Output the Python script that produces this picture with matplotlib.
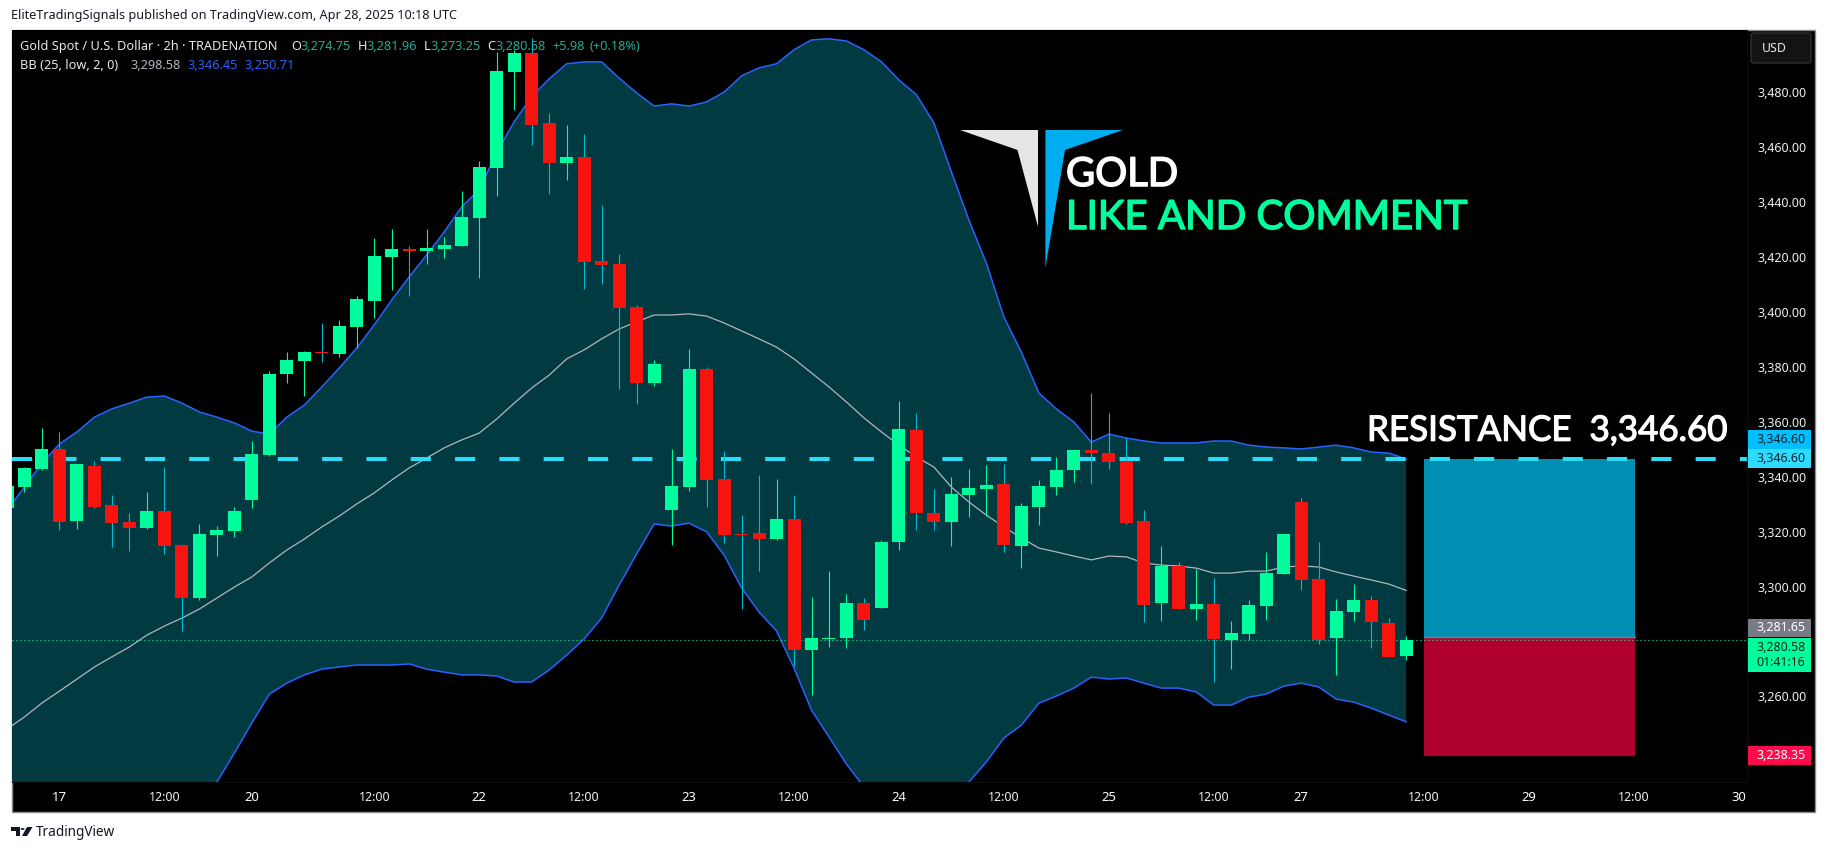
import numpy as np
import matplotlib
matplotlib.use("Agg")
import matplotlib.pyplot as plt
import matplotlib.patheffects as pe
from matplotlib.patches import Rectangle, Polygon, Circle, FancyBboxPatch
from matplotlib.transforms import blended_transform_factory

W, H = 1826, 852

opens = [3328.5,3336.2,3342.8,3350.1,3323.9,3343.9,3329.7,3323.5,3321.3,3327.5,
         3315.1,3295.8,3318.8,3320.2,3331.5,3347.9,3377.4,3382.2,3385.4,3384.7,
         3394.5,3404.0,3420.0,3422.9,3422.2,3422.9,3424.0,3434.3,3452.5,3487.4,
         3494.4,3468.9,3454.3,3456.5,3418.5,3417.5,3401.8,3374.1,3327.9,3336.3,
         3379.2,3339.2,3319.1,3319.5,3317.3,3324.6,3276.9,3280.9,3281.2,3294.0,
         3292.2,3316.2,3357.0,3326.8,3323.5,3333.3,3335.5,3337.3,3314.8,3329.0,
         3336.3,3342.4,3349.7,3348.6,3345.7,3323.9,3294.0,3307.6,3291.8,3293.6,
         3280.5,3282.7,3292.9,3304.6,3330.8,3302.7,3281.2,3290.7,3295.1,3286.7,
         3274.75]
highs = [3336.6,3343.7,3357.7,3356.3,3344.6,3345.7,3333.3,3326.8,3334.4,3343.5,
         3315.1,3322.8,3322.0,3329.0,3353.0,3378.5,3385.4,3385.8,3396.0,3397.1,
         3405.8,3426.9,3430.2,3424.0,3430.2,3427.3,3444.1,3455.0,3494.7,3495.5,
         3499.8,3472.5,3468.1,3464.8,3438.9,3421.1,3402.5,3382.5,3350.1,3386.5,
         3380.0,3349.4,3326.1,3340.7,3339.2,3333.3,3296.2,3305.7,3297.3,3295.8,
         3317.0,3367.6,3363.2,3335.5,3339.9,3342.8,3344.3,3344.6,3330.4,3338.8,
         3347.2,3350.1,3370.5,3363.2,3354.1,3327.9,3314.8,3308.9,3306.4,3303.1,
         3287.4,3295.1,3312.6,3319.1,3332.2,3316.2,3295.4,3300.9,3296.5,3288.5,
         3281.96]
lows = [3328.5,3334.4,3342.4,3320.6,3320.9,3328.6,3314.4,3312.9,3320.9,3311.8,
        3283.9,3295.1,3311.1,3318.0,3328.6,3347.5,3374.1,3369.4,3381.8,3383.6,
        3386.8,3397.8,3408.0,3405.8,3417.5,3419.7,3424.0,3412.4,3442.3,3473.6,
        3460.8,3443.0,3448.1,3408.4,3410.2,3371.9,3366.4,3373.0,3315.1,3334.8,
        3329.0,3315.9,3291.8,3305.7,3317.0,3271.0,3260.5,3277.9,3277.6,3284.2,
        3292.2,3313.3,3320.6,3320.6,3314.8,3325.3,3325.7,3312.6,3306.8,3322.4,
        3333.3,3338.1,3337.3,3342.8,3322.8,3287.1,3287.4,3291.8,3287.8,3265.2,
        3269.9,3280.5,3287.8,3304.6,3298.7,3279.0,3267.8,3287.4,3277.6,3274.3,
        3273.25]
closes = [3336.6,3343.2,3350.1,3323.6,3344.6,3329.0,3323.1,3321.3,3327.5,3314.8,
          3295.8,3319.1,3320.6,3327.5,3348.3,3377.4,3382.5,3385.4,3385.1,3394.9,
          3404.6,3420.4,3422.9,3422.2,3423.3,3424.4,3434.6,3452.8,3487.8,3494.4,
          3468.1,3454.3,3456.5,3418.2,3417.1,3401.4,3374.1,3381.0,3336.6,3379.2,
          3338.8,3318.8,3318.8,3317.3,3324.6,3276.9,3281.2,3281.2,3294.0,3287.8,
          3316.2,3357.4,3326.8,3323.5,3333.7,3335.9,3337.0,3315.1,3329.3,3336.6,
          3342.4,3349.7,3348.6,3345.4,3323.1,3293.3,3307.6,3291.8,3293.6,3280.9,
          3283.1,3293.3,3304.9,3319.1,3302.4,3280.5,3291.1,3295.1,3287.1,3274.3,
          3280.58]

bb_upper = [3327.9,3336.2,3345.0,3351.9,3356.3,3361.7,3364.7,3366.8,3369.0,3369.4,
            3366.8,3363.6,3361.7,3359.6,3356.6,3355.5,3361.7,3366.1,3372.7,3379.6,
            3386.9,3395.3,3404.4,3412.8,3420.8,3429.2,3438.3,3444.5,3458.0,3469.3,
            3478.4,3484.9,3490.4,3491.1,3491.1,3485.2,3479.8,3475.0,3475.8,3475.0,
            3476.5,3480.1,3486.0,3488.9,3490.4,3495.5,3499.1,3499.5,3498.7,3495.5,
            3491.1,3484.5,3479.1,3468.9,3451.0,3433.5,3417.8,3398.2,3385.4,3370.5,
            3364.7,3359.9,3352.6,3355.5,3354.1,3353.0,3352.3,3352.3,3352.3,3353.0,
            3353.0,3351.5,3350.8,3350.5,3350.1,3350.8,3351.5,3350.5,3349.0,3348.6,
            3346.45]
bb_mid = [3248.1,3252.5,3257.6,3261.9,3266.3,3270.7,3274.4,3278.0,3282.3,3285.6,
          3288.5,3291.8,3295.8,3299.8,3303.5,3308.6,3313.3,3317.3,3321.7,3325.7,
          3330.1,3334.1,3338.8,3343.2,3346.8,3350.5,3353.4,3355.9,3361.0,3366.8,
          3372.3,3377.0,3382.9,3386.2,3390.2,3393.8,3396.4,3398.9,3398.9,3399.3,
          3398.5,3396.0,3393.1,3390.2,3387.2,3382.9,3377.8,3372.7,3367.2,3361.4,
          3356.3,3351.5,3347.2,3343.5,3336.2,3330.8,3326.0,3321.7,3317.7,3314.0,
          3312.6,3311.1,3309.7,3311.1,3310.8,3308.6,3307.8,3307.5,3306.7,3304.9,
          3304.9,3305.6,3305.6,3307.1,3307.5,3307.1,3305.3,3303.8,3302.4,3300.9,
          3298.58]
bb_lower = [3168.3,3168.7,3170.1,3172.0,3176.3,3179.6,3184.0,3189.1,3195.6,3201.8,
            3210.2,3220.0,3228.8,3239.3,3250.3,3260.8,3264.8,3267.8,3269.9,3270.7,
            3271.4,3271.4,3271.4,3271.8,3269.9,3268.8,3267.8,3267.8,3267.4,3265.2,
            3265.2,3269.6,3275.0,3280.9,3288.5,3300.5,3311.8,3322.8,3322.0,3323.1,
            3319.9,3311.5,3299.5,3290.7,3283.8,3270.3,3255.0,3245.2,3235.3,3227.0,
            3221.5,3218.6,3215.3,3218.2,3221.5,3228.8,3236.1,3244.8,3249.5,3257.5,
            3260.1,3263.0,3267.0,3266.3,3266.7,3264.8,3263.0,3263.0,3261.6,3256.8,
            3256.8,3259.7,3260.8,3263.7,3264.8,3263.4,3259.0,3257.9,3255.7,3253.2,
            3250.71]

price_ticks = [3240,3260,3300,3320,3340,3360,3380,3400,3420,3440,3460,3480]
time_tick_bars = [3,9,14,21,27,33,39,45,51,57,63,69,74,81,87,93,99]
time_tick_labels = ["17","12:00","20","12:00","22","12:00","23","12:00","24","12:00",
                    "25","12:00","27","12:00","29","12:00","30"]
resistance = 3346.60
entry = 3281.65
stop = 3238.35
last_price = 3280.58
box_start, box_end = 81, 93.1

GREEN = "#00ff9c"; RED = "#f7130e"; WICK_RED = "#00bcd4"
FILL = "#023a42"; BAND = "#2962ff"; DASH = "#2adcf5"
SANS = "Noto Sans"
LEG = 9.2
AX_FS = 8.9

fx = lambda x: x / W
fy = lambda y: 1 - y / H

fig = plt.figure(figsize=(W / 100, H / 100), dpi=100, facecolor="white")
fig.add_artist(Rectangle((fx(11.5), fy(812)), fx(1815 - 11.5), (812 - 30) / H,
                         transform=fig.transFigure, facecolor="black",
                         edgecolor="#8c8c8c", linewidth=1.0, zorder=-1))

ax = fig.add_axes([fx(11.5), fy(782), fx(1747 - 11.5), (782 - 30) / H], facecolor="black")
ax.set_xlim(0.257, 99.49)
ax.set_ylim(3228.8, 3502.7)
for s in ax.spines.values():
    s.set_visible(False)
ax.spines["bottom"].set_visible(True); ax.spines["bottom"].set_color("#0d0d0d")
ax.spines["right"].set_visible(True); ax.spines["right"].set_color("#0d0d0d")

idx = np.arange(len(opens))
op, hi, lo, cl = map(np.array, (opens, highs, lows, closes))
up = cl >= op

ax.fill_between(idx, bb_lower, bb_upper, color=FILL, linewidth=0, zorder=1)
ax.plot(idx, bb_mid, color="#b2b5be", lw=0.9, zorder=2)
ax.plot(idx, bb_upper, color=BAND, lw=1.1, zorder=2)
ax.plot(idx, bb_lower, color=BAND, lw=1.1, zorder=2)

ax.add_patch(Rectangle((box_start, entry), box_end - box_start, resistance - entry,
                       facecolor="#008fb2", edgecolor="none", zorder=1.5))
ax.add_patch(Rectangle((box_start, stop), box_end - box_start, entry - stop,
                       facecolor="#b00030", edgecolor="none", zorder=1.5))
ax.plot([box_start, box_end], [entry, entry], color="#787b86", lw=1, zorder=1.6)

ax.plot(ax.get_xlim(), [resistance, resistance], color=DASH, lw=2.9,
        linestyle=(0, (5, 6)), dash_capstyle="butt", zorder=2.5)
ax.plot(ax.get_xlim(), [last_price, last_price], color=GREEN, lw=0.8,
        linestyle=(0, (1, 2.6)), zorder=2.6)

ax.vlines(idx, lo, hi, colors=[GREEN if u else WICK_RED for u in up], lw=0.8, zorder=3)
ax.bar(idx, np.maximum(np.abs(cl - op), 0.4), bottom=np.minimum(op, cl), width=0.743,
       color=[GREEN if u else RED for u in up], linewidth=0, zorder=4)

ax.yaxis.tick_right()
ax.set_yticks(price_ticks, [f"{v:,.2f}" for v in price_ticks])
ax.tick_params(axis="y", length=0, pad=7.2, labelcolor="#f0f0f0", labelsize=AX_FS)
ax.set_xticks(time_tick_bars, time_tick_labels)
ax.tick_params(axis="x", length=0, pad=6.2, labelcolor="#f0f0f0", labelsize=AX_FS)
for lab in ax.get_yticklabels() + ax.get_xticklabels():
    lab.set_fontfamily(SANS)
for lab in ax.get_xticklabels():
    if ":" not in lab.get_text():
        lab.set_fontweight("bold")
        lab.set_color("white")
        lab.set_fontsize(9.4)

# price-axis badges
tr = blended_transform_factory(fig.transFigure, ax.transData)
badge_rows = [
    ("3,346.60", 3353.5, 3.5, "#00bfff", "#06222e"),
    ("3,346.60", resistance, 3.5, "#2fdcff", "#06222e"),
    ("3,281.65", 3284.9, 3.4, "#787b86", "white"),
    ("3,280.58\n01:41:16", 3274.9, 6.2, GREEN, "#06281c"),
    ("3,238.35", stop, 3.5, "#ff0a4a", "white"),
]
for text, pos, half, bg, fg in badge_rows:
    ax.add_patch(Rectangle((fx(1748), pos - half), fx(62.6), 2 * half, transform=tr,
                           facecolor=bg, edgecolor="none", clip_on=False, zorder=6))
    ax.text(fx(1781), pos, text, transform=tr, ha="center", va="center", color=fg,
            fontsize=AX_FS, family=SANS, zorder=7, clip_on=False, linespacing=1.2)

# USD button
fig.add_artist(FancyBboxPatch((fx(1751), fy(63)), fx(60), 30 / H,
                              boxstyle="round,pad=0,rounding_size=0.002",
                              transform=fig.transFigure, facecolor="#131313",
                              edgecolor="#2a2e33", linewidth=1, zorder=2))
fig.text(fx(1761.5), fy(48), "USD", color="#e8e8e8", fontsize=AX_FS, family=SANS,
         va="center", ha="left", zorder=3)

# header
fig.text(fx(11), fy(16), "EliteTradingSignals published on TradingView.com, Apr 28, 2025 10:18 UTC",
         color="#131722", fontsize=9.1, family=SANS, va="center", ha="left")

TEAL = "#22ab94"
legend1 = [(20, "Gold Spot / U.S. Dollar · 2h · TRADENATION", "#e8e8e8"),
           (291, "O", "#e8e8e8"), (300, "3,274.75", TEAL),
           (357.5, "H", "#e8e8e8"), (366, "3,281.96", TEAL),
           (423.5, "L", "#e8e8e8"), (430, "3,273.25", TEAL),
           (487, "C", "#e8e8e8"), (495, "3,280.58", TEAL),
           (552, "+5.98", TEAL), (589, "(+0.18%)", TEAL)]
for x, t, c in legend1:
    fig.text(fx(x), fy(46.5), t, color=c, fontsize=LEG, family=SANS, va="center", ha="left")
legend2 = [(20, "BB (25, low, 2, 0)", "#e8e8e8"), (130.5, "3,298.58", "#b2b5be"),
           (187.5, "3,346.45", BAND), (244.5, "3,250.71", BAND)]
for x, t, c in legend2:
    fig.text(fx(x), fy(65.5), t, color=c, fontsize=LEG, family=SANS, va="center", ha="left")

# overlaid annotation text
def heavy(color, w=0.9):
    return [pe.withStroke(linewidth=w, foreground=color)]

fig.text(fx(1367), fy(440.7), "RESISTANCE  3,346.60", color="white", fontsize=25.2,
         family="Lato", va="baseline", ha="left", path_effects=heavy("white"))
fig.text(fx(1066), fy(186), "GOLD", color="white", fontsize=28.8, family="Lato",
         va="baseline", ha="left", path_effects=heavy("white", 1.1))
fig.text(fx(1066), fy(229), "LIKE AND COMMENT", color=GREEN, fontsize=28.9, family="Lato",
         va="baseline", ha="left", path_effects=heavy(GREEN, 1.1))

# logo marks
def poly(pts, color, z=5):
    fig.add_artist(Polygon([(fx(x), fy(y)) for x, y in pts], closed=True,
                           transform=fig.transFigure, facecolor=color,
                           edgecolor="none", zorder=z))

poly([(960, 130), (1038, 130), (1038, 226.7), (1017.5, 150)], "#e6e6e6")
poly([(1045.4, 130), (1123, 130), (1065, 150), (1045.4, 268)], "#00aeef")

# TradingView footer
poly([(11, 827), (20, 827), (20, 836), (15.5, 836), (15.5, 831), (11, 831)], "#131722")
poly([(27, 827), (32.5, 827), (27, 836), (22, 836)], "#131722")
fig.add_artist(Circle((fx(22.6), fy(829)), 2 / W, transform=fig.transFigure,
                      facecolor="#131722", edgecolor="none"))
fig.text(fx(36), fy(833), "TradingView", color="#131722", fontsize=9.8, family=SANS,
         va="center", ha="left")

fig.savefig("out.png", dpi=100, facecolor="white")
